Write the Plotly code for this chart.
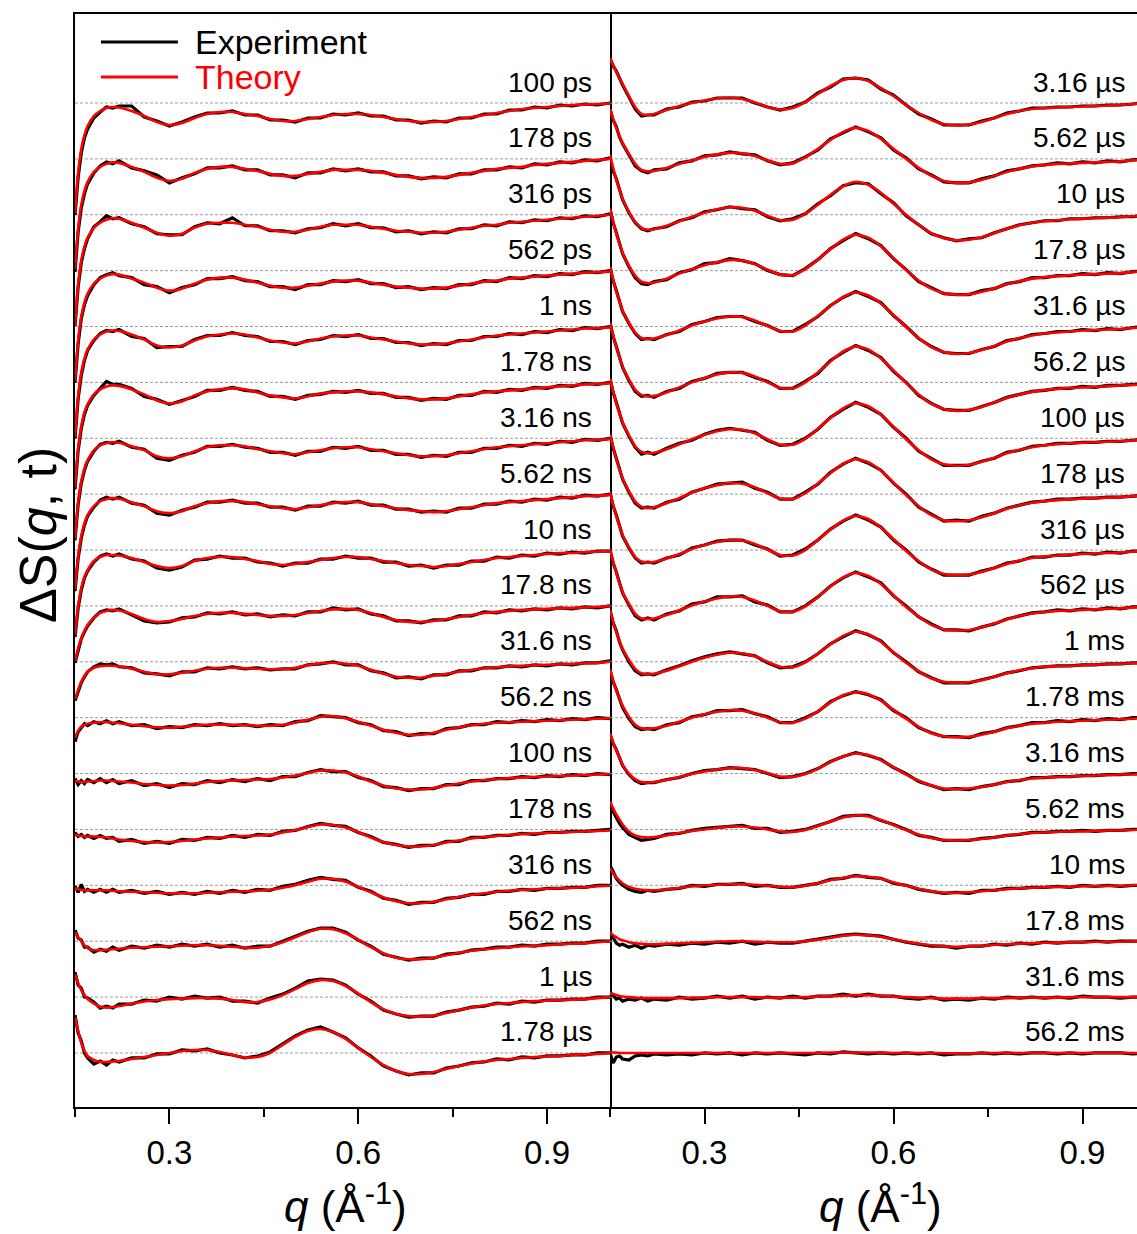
import plotly.graph_objects as go

# q grid (Å^-1) shared by all series
q = [0.15, 0.155, 0.16, 0.165, 0.17, 0.18, 0.19, 0.20, 0.21, 0.22,
     0.24, 0.26, 0.28, 0.30, 0.32, 0.34, 0.36, 0.38, 0.40, 0.42,
     0.44, 0.46, 0.48, 0.50, 0.52, 0.54, 0.56, 0.58, 0.60, 0.62,
     0.64, 0.66, 0.68, 0.70, 0.72, 0.74, 0.76, 0.78, 0.80, 0.82,
     0.84, 0.86, 0.88, 0.90, 0.92, 0.94, 0.96, 0.98, 1.00]

left_labels = ["100 ps", "178 ps", "316 ps", "562 ps", "1 ns", "1.78 ns", "3.16 ns",
               "5.62 ns", "10 ns", "17.8 ns", "31.6 ns", "56.2 ns", "100 ns", "178 ns",
               "316 ns", "562 ns", "1 µs", "1.78 µs"]
right_labels = ["3.16 µs", "5.62 µs", "10 µs", "17.8 µs", "31.6 µs", "56.2 µs", "100 µs",
                "178 µs", "316 µs", "562 µs", "1 ms", "1.78 ms", "3.16 ms", "5.62 ms",
                "10 ms", "17.8 ms", "31.6 ms", "56.2 ms"]

x_ticks = [0.3, 0.6, 0.9]
x_tick_text = ["0.3", "0.6", "0.9"]

# ---------------- LEFT PANEL: theory / experiment ----------------
th_100ps = [-110, -70, -46, -32, -23, -13, -8, -5, -4, -4.5,
            -8, -13, -19, -22, -20, -15, -11, -9, -9, -11,
            -13, -16, -18, -18, -16, -14, -12, -11, -11, -12,
            -14, -16, -18, -19, -19, -18, -16, -14, -12, -10,
            -8, -6, -5, -4, -3, -2, -1.5, -1, -0.5]
ex_100ps = [-112, -74, -50, -35, -26, -15, -9, -4, -5, -3,
            -3, -14, -18, -23, -19, -14, -10, -10, -8, -12,
            -12, -17, -17, -19, -15, -15, -11, -12, -10, -13,
            -13, -17, -17, -20, -18, -19, -15, -15, -11, -11,
            -7, -7, -4, -5, -2, -3, -1, -2, 0]
th_178ps = [-110, -70, -46, -32, -23, -13, -8, -5, -3.5, -4,
            -8, -13, -19, -22, -20, -14, -10, -8, -8, -10,
            -12, -15, -17, -17, -15, -13, -11, -11, -11, -12,
            -14, -16, -18, -19, -19, -18, -16, -14, -12, -10,
            -9, -8, -6, -5, -4, -3, -2, -1, 0]
ex_178ps = [-113, -73, -49, -35, -25, -14, -7, -3, -5, -2,
            -9, -12, -16, -24, -19, -15, -9, -9, -7, -11,
            -11, -16, -16, -19, -14, -14, -10, -12, -10, -13,
            -13, -17, -17, -20, -18, -19, -15, -15, -11, -11,
            -8, -9, -5, -6, -3, -4, -1, -2, 1]
th_316ps = [-110, -70, -46, -32, -23, -13, -8, -5, -3.5, -4,
            -8, -13, -18, -21, -19, -13, -9, -8, -8, -10,
            -12, -15, -17, -17, -15, -12, -10, -10, -10, -12,
            -14, -16, -17, -18, -18, -17, -15, -13, -11, -10,
            -8, -7, -6, -5, -4, -3, -2, -1, 0]
ex_316ps = [-111, -72, -48, -34, -24, -12, -7, -1, -4, -3,
            -9, -12, -19, -20, -20, -12, -8, -9, -3, -11,
            -11, -16, -16, -18, -14, -13, -9, -11, -9, -13,
            -13, -17, -16, -19, -17, -18, -14, -14, -10, -11,
            -7, -8, -5, -6, -3, -4, -1, -2, 1]
th_562ps = [-110, -70, -46, -32, -23, -13, -8, -5, -3.5, -4,
            -8, -12, -17, -20, -18, -13, -9, -7, -7, -9,
            -12, -15, -17, -17, -15, -13, -11, -10, -10, -12,
            -14, -16, -17, -18, -18, -17, -15, -13, -11, -10,
            -8, -7, -6, -5, -4, -3, -2, -1.5, -1]
ex_562ps = [-112, -73, -48, -34, -25, -14, -7, -4, -2, -5,
            -7, -14, -16, -22, -17, -14, -8, -8, -6, -10,
            -11, -16, -16, -19, -14, -14, -10, -11, -9, -13,
            -13, -17, -16, -19, -17, -18, -14, -14, -10, -11,
            -7, -8, -5, -6, -3, -4, -1, -2, 0]
th_1ns = [-110, -70, -46, -32, -23, -13, -8, -5, -4, -4.5,
          -8, -13, -19, -21, -19, -14, -10, -8, -7, -8,
          -11, -14, -16, -17, -15, -12, -10, -9, -9, -11,
          -13, -15, -17, -18, -18, -17, -15, -13, -11, -9,
          -8, -7, -6, -5, -4, -3, -2, -1.5, -1]
ex_1ns = [-112, -72, -49, -34, -24, -14, -7, -4, -5, -3,
          -10, -12, -21, -20, -20, -13, -9, -9, -6, -9,
          -10, -15, -15, -18, -14, -13, -9, -10, -8, -12,
          -12, -16, -16, -19, -17, -18, -14, -14, -10, -10,
          -7, -8, -5, -6, -3, -4, -1, -2, 0]
th_1p78ns = [-105, -66, -44, -30, -22, -12, -7, -4, -3, -3.5,
             -7, -12, -18, -21, -19, -13, -9, -7, -6, -7,
             -10, -13, -15, -16, -14, -11, -10, -9, -9, -10,
             -12, -14, -16, -17, -17, -16, -14, -12, -10, -9,
             -8, -7, -6, -5, -4, -3, -2, -1.5, -1]
ex_1p78ns = [-107, -68, -46, -32, -23, -13, -6, 1, -2, -2,
             -6, -14, -17, -22, -18, -14, -8, -8, -5, -8,
             -9, -14, -14, -17, -13, -12, -9, -10, -8, -11,
             -11, -15, -15, -18, -16, -17, -13, -13, -9, -10,
             -7, -8, -5, -6, -3, -4, -1, -2, 0]
th_3p16ns = [-100, -64, -43, -30, -22, -12, -7, -5, -4, -4.5,
             -8, -12, -18, -20, -18, -13, -9, -7, -7, -8,
             -11, -13, -15, -16, -14, -12, -10, -9, -9, -11,
             -13, -15, -17, -18, -18, -17, -15, -13, -11, -9,
             -8, -7, -6, -5, -4, -3, -2, -1.5, -1]
ex_3p16ns = [-102, -66, -45, -32, -23, -13, -6, -4, -5, -3,
             -9, -11, -20, -22, -17, -14, -8, -8, -6, -9,
             -10, -14, -14, -17, -13, -13, -9, -10, -8, -12,
             -12, -16, -16, -19, -17, -18, -14, -14, -10, -10,
             -7, -8, -5, -6, -3, -4, -1, -2, 0]
th_5p62ns = [-95, -62, -42, -29, -21, -12, -7, -5, -4, -4.5,
             -8, -12, -17, -19, -17, -12, -9, -7, -7, -8,
             -10, -12, -14, -15, -13, -11, -9, -8, -8, -10,
             -12, -14, -16, -17, -18, -17, -15, -13, -11, -9,
             -8, -7, -6, -5, -4, -3, -2, -1.5, -1]
ex_5p62ns = [-97, -64, -44, -31, -22, -13, -6, -3, -5, -3,
             -9, -11, -19, -21, -16, -13, -8, -8, -6, -9,
             -9, -13, -13, -16, -12, -12, -8, -9, -7, -11,
             -11, -15, -15, -18, -17, -18, -14, -14, -10, -10,
             -7, -8, -5, -6, -3, -4, -1, -2, 0]
th_10ns = [-85, -56, -38, -27, -20, -11, -7, -5, -5, -5.5,
           -8, -12, -16, -18, -16, -11, -8, -7, -7, -9,
           -11, -14, -15, -14, -12, -10, -8, -7, -7, -9,
           -11, -13, -15, -16, -17, -16, -14, -12, -10, -8,
           -7, -6, -5, -4, -3, -3, -2, -1.5, -1]
ex_10ns = [-87, -58, -40, -28, -21, -12, -6, -4, -6, -4,
           -9, -11, -18, -20, -17, -10, -9, -6, -8, -8,
           -12, -13, -16, -13, -13, -9, -9, -6, -8, -8,
           -12, -12, -16, -15, -18, -15, -15, -11, -11, -7,
           -8, -5, -6, -3, -4, -2, -3, -1, -1]
th_17p8ns = [-55, -42, -32, -25, -19, -12, -7, -5, -4, -4.5,
             -8, -13, -16, -15, -13, -10, -8, -7, -7, -8,
             -9, -10, -10, -9, -7, -5, -3.5, -3, -4, -7,
             -11, -14, -16, -16, -15, -13, -11, -9, -7, -6,
             -5, -4, -3.5, -3, -2.5, -2, -1.5, -1, 0]
ex_17p8ns = [-57, -44, -33, -26, -20, -12, -6, -4, -5, -3,
             -9, -15, -17, -16, -12, -11, -7, -8, -6, -9,
             -8, -11, -9, -10, -6, -6, -2, -4, -3, -8,
             -10, -15, -15, -17, -14, -14, -10, -10, -6, -7,
             -4, -5, -3, -4, -2, -3, -1, -2, 0]
th_31p6ns = [-37, -28, -20, -14, -10, -6, -4.5, -4, -4, -4.5,
             -7, -10, -12.5, -12.5, -11, -9, -7, -6, -6, -6.5,
             -7, -7.5, -7.5, -6, -3.5, -1.5, -1, -2, -4, -8,
             -12, -15, -16, -16, -14, -12, -10, -8, -6.5, -5.5,
             -4.5, -4, -3.5, -3, -2.5, -2, -1.5, -1, 0]
ex_31p6ns = [-39, -29, -21, -15, -10, -5, -2, -3, -2, -5,
             -6, -11, -12, -14, -10, -10, -6, -7, -5, -7,
             -6, -8, -7, -7, -3, -2, 0, -3, -3, -9,
             -11, -16, -15, -17, -13, -13, -9, -9, -6, -6,
             -4, -5, -3, -4, -2, -3, -1, -1, 1]
th_56p2ns = [-20, -13, -9, -7, -6, -5, -4.5, -4.5, -5, -5.5,
             -7, -8.5, -9.5, -10, -9, -8, -7, -7, -7, -7.5,
             -8, -8, -7, -5, -2, 1, 1.5, -0.5, -4, -8,
             -12, -15, -17, -17, -15, -12, -9.5, -7.5, -6, -5,
             -4.5, -4, -3.5, -3, -2.5, -2, -1.5, -1, -0.5]
ex_56p2ns = [-24, -14, -10, -6, -8, -4, -6, -3, -6, -4,
             -8, -7, -11, -9, -10, -7, -8, -6, -8, -7,
             -9, -7, -8, -4, -3, 2, 1, 0, -5, -7,
             -13, -14, -18, -16, -16, -11, -10, -7, -7, -4,
             -5, -3, -4, -2, -3, -1, -2, 0, -1]
th_100ns = [-7, -8, -8.5, -8.5, -8, -7.5, -7, -7, -7.5, -8,
            -9, -10.5, -11.5, -12, -11.5, -10, -8.5, -7.5, -7, -6.5,
            -6, -5.5, -4, -2, 0.5, 3, 3, 1, -3, -8,
            -12, -15, -16, -16, -14.5, -12, -10, -8, -6.5, -5.5,
            -4.5, -4, -3.5, -3, -2.5, -2, -1.5, -1, -0.5]
ex_100ns = [-5, -11, -7, -10, -6, -9, -5, -9, -6, -10,
            -7, -12, -10, -14, -10, -11, -7, -9, -6, -8,
            -5, -7, -3, -3, 1, 4, 2, 2, -4, -7,
            -13, -14, -17, -15, -15, -11, -11, -7, -7, -5,
            -5, -3, -4, -2, -3, -1, -2, 0, -1]
th_178ns = [-5, -6, -6.5, -7, -7, -7, -7.5, -8, -9, -10,
            -11.5, -12.5, -13, -12.5, -11.5, -10, -9, -8, -7, -6.5,
            -6, -5, -3, -0.5, 2.5, 5, 4.5, 2, -2.5, -8,
            -12.5, -15.5, -17, -17, -15.5, -13, -11, -9, -7.5, -6.5,
            -5.5, -4.5, -4, -3.5, -3, -2.5, -2, -1.5, -1]
ex_178ns = [-3, -7, -5, -8, -6, -9, -6, -9, -8, -12,
            -10, -14, -12, -14, -10, -11, -8, -9, -6, -8,
            -5, -6, -2, -1, 3, 6, 4, 3, -3, -7,
            -13, -15, -18, -16, -16, -12, -12, -8, -8, -6,
            -6, -4, -5, -3, -3, -2, -2, -1, 0]
th_316ns = [-3, -4, -4.5, -5, -5, -5, -5, -5, -5.5, -6,
            -6.5, -7, -7.5, -8, -8, -8, -7.5, -7, -6.5, -6,
            -5.5, -4.5, -2.5, 0, 3.5, 6.5, 6.5, 3.5, -1.5, -7,
            -12, -16, -18, -18, -16.5, -14, -11.5, -9.5, -8, -6.5,
            -5.5, -4.5, -4, -3.5, -3, -2.5, -2, -1, -0.5]
ex_316ns = [-1, -7, 1, -6, -4, -7, -4, -7, -4, -7,
            -5, -8, -6, -9, -7, -9, -6, -8, -5, -7,
            -4, -5, -1, 1, 5, 8, 6, 5, -2, -6,
            -13, -15, -19, -17, -17, -13, -12, -9, -9, -6,
            -6, -4, -5, -3, -3, -2, -2, 0, 0]
th_562ns = [9, 4, 0, -4, -7, -9, -9, -8.5, -8, -7.5,
            -6.5, -6, -5.5, -5, -4.5, -4, -4, -4.5, -5.5, -6.5,
            -6.5, -4.5, -1, 4, 9, 12.5, 12, 8, 1.5, -6,
            -12, -16.5, -18, -18, -16.5, -14, -11.5, -9.5, -8, -7,
            -6, -5, -4.5, -4, -3, -2.5, -2, -1, 0]
ex_562ns = [11, 3, 1, -6, -6, -11, -8, -10, -6, -9,
            -5, -7, -4, -6, -3, -5, -3, -6, -4, -7,
            -5, -5, 0, 5, 10, 13, 13, 9, 1, -5,
            -13, -16, -19, -17, -17, -13, -12, -9, -8, -6,
            -6, -4, -5, -3, -3, -2, -2, 0, 0]
th_1us = [23, 14, 7, 2, -2, -6.5, -9.5, -10.5, -10, -9,
          -6.5, -4.5, -3, -2, -1.5, -1, -1, -1.5, -3, -5,
          -5, -2.5, 2, 8, 14, 17, 16, 11, 3.5, -5,
          -12, -17, -19, -19.5, -18.5, -16, -13, -10.5, -8.5, -7,
          -6, -5, -4, -3.5, -3, -2.5, -2, -1, 0]
ex_1us = [25, 12, 9, 0, -1, -5, -11, -9, -11, -7,
          -7, -3, -4, 0, -2, 1, -1, 0, -4, -4,
          -6, -1, 3, 9, 16, 18, 17, 12, 3, -4,
          -13, -17, -20, -19, -19, -15, -13, -10, -9, -6,
          -7, -4, -5, -3, -3, -2, -2, 0, 0]
th_1p78us = [36, 22, 10, 2, -3, -7, -9, -9, -8.5, -8,
             -6, -4, -2, 0, 2, 3, 3, 1, -2, -4.5,
             -4, 0, 8, 16, 22, 24, 21, 14, 5, -4,
             -12, -18, -21, -21, -19, -16, -13, -10.5, -8.5, -7,
             -6, -5, -4, -3.5, -3, -2, -1.5, -1, 0]
ex_1p78us = [38, 20, 12, 0, -5, -11, -8, -12, -7, -9,
             -5, -5, -1, -1, 3, 2, 4, 0, -2, -5,
             -3, 1, 9, 17, 23, 26, 21, 15, 5, -3,
             -13, -18, -22, -20, -20, -15, -13, -10, -9, -6,
             -7, -4, -5, -3, -3, -2, -2, 0, 0]

# ---------------- RIGHT PANEL: theory / experiment ----------------
th_3p16us = [45, 38, 31, 25, 19, 7, -4, -11, -12, -11,
             -7, -3, 0, 2.5, 4.5, 5.5, 4, 0.5, -4, -6.5,
             -5, 1, 9, 17, 23, 25, 22, 15, 7, -2,
             -10, -17, -21, -22.5, -21.5, -19, -15, -11, -8, -6,
             -5, -4.5, -4, -3.5, -3, -2.5, -2, -1, 0]
ex_3p16us = [45, 37, 32, 24, 18, 6, -6, -13, -12, -12,
             -6, -4, 1, 2, 5, 5, 5, 0, -4, -7,
             -4, 1, 10, 16, 24, 25, 23, 14, 8, -2,
             -11, -16, -22, -22, -22, -18, -15, -10, -8, -5,
             -5, -4, -4, -3, -3, -2, -2, -1, 1]
th_5p62us = [50, 40, 31, 23, 16, 5, -5, -11, -12.5, -12,
             -9, -5, -1.5, 2, 4.5, 6, 5.5, 3, -1.5, -5,
             -4.5, 1.5, 10, 19, 27, 31, 28, 20, 10, 0,
             -9, -17, -22, -24, -23.5, -21, -17, -13, -10, -7.5,
             -6, -5, -4.5, -4, -3.5, -3, -2.5, -1.5, -0.5]
ex_5p62us = [50, 39, 32, 22, 15, 4, -7, -12, -14, -11,
             -10, -4, -2, 3, 4, 7, 5, 4, -2, -6,
             -4, 2, 9, 20, 26, 32, 27, 21, 9, 1,
             -10, -16, -23, -24, -24, -20, -17, -12, -10, -7,
             -6, -4, -5, -3, -4, -2, -3, -1, 0]
th_10us = [60, 47, 35, 25, 16, 3, -7, -13, -15, -14.5,
           -11, -6.5, -2, 2, 5.5, 7.5, 7, 4, -1, -5.5,
           -5, 1, 10, 20, 28.5, 33, 30, 22, 11, 0,
           -10, -18.5, -23.5, -25.5, -25, -22.5, -18.5, -14, -10.5, -8,
           -6.5, -5.5, -4.5, -4, -3.5, -3, -2.5, -1.5, -0.5]
ex_10us = [55, 44, 36, 24, 15, 2, -8, -14, -16, -14,
           -12, -6, -3, 3, 5, 8, 6, 5, -2, -6,
           -4, 1, 11, 19, 29, 32, 31, 21, 12, -1,
           -10, -19, -23, -26, -24, -23, -18, -14, -10, -8,
           -6, -6, -4, -4, -3, -3, -2, -2, 0]
th_17p8us = [62, 49, 37, 27, 18, 5, -5, -11, -12.5, -12,
             -8, -3, 1.5, 5.5, 8.5, 10.5, 10, 6.5, 1, -4,
             -4.5, 1.5, 11, 21.5, 31, 36, 33, 24.5, 12.5, 0.5,
             -10, -18, -22.5, -24, -23.5, -21, -17.5, -13.5, -10.5, -8,
             -6.5, -5.5, -4.5, -4, -3.5, -3, -2.5, -1.5, -0.5]
ex_17p8us = [62, 48, 38, 26, 17, 4, -7, -13, -14, -11,
             -9, -2, 1, 7, 8, 12, 10, 7, 0, -4,
             -5, 2, 11, 22, 30, 37, 32, 25, 12, 1,
             -11, -17, -23, -24, -24, -20, -18, -13, -11, -7,
             -7, -5, -5, -3, -4, -2, -3, -1, 0]
th_31p6us = [60, 47, 35, 25, 16, 4, -6, -11.5, -12.5, -12,
             -8.5, -4, 1, 5, 8, 10, 9.5, 6, 0.5, -4.5,
             -5, 1, 10.5, 20.5, 29.5, 34, 31, 23, 11.5, -0.5,
             -11.5, -20.5, -25.5, -27.5, -26.5, -23.5, -19.5, -15, -11.5, -9,
             -7, -6, -5, -4, -3.5, -3, -2.5, -1.5, -0.5]
ex_31p6us = [60, 46, 36, 24, 15, 3, -7, -13, -12, -13,
             -8, -5, 2, 5, 9, 10, 10, 5, 1, -5,
             -5, 2, 10, 21, 29, 35, 30, 24, 11, 0,
             -12, -20, -26, -27, -27, -23, -20, -14, -12, -8,
             -7, -5, -5, -3, -4, -2, -3, -1, 0]
th_56p2us = [60, 47, 35, 25, 16, 3, -7.5, -12.5, -14, -13.5,
             -10, -5, 0, 4.5, 8, 10, 9.5, 6, 0, -5.5,
             -6, 0, 10, 21, 31, 36, 33, 24, 12, -0.5,
             -12, -21.5, -26.5, -28.5, -27.5, -24.5, -20, -15.5, -12, -9.5,
             -7.5, -6.5, -5.5, -5, -4.5, -4, -3, -2.5, -2]
ex_56p2us = [60, 46, 36, 24, 15, 2, -9, -14, -13, -15,
             -9, -6, 1, 4, 9, 10, 10, 5, 1, -6,
             -6, 1, 9, 22, 30, 37, 32, 25, 11, 0,
             -13, -21, -27, -28, -28, -24, -20, -15, -12, -9,
             -8, -6, -6, -4, -5, -3, -3, -2, -2]
th_100us = [60, 47, 35, 25, 16, 3, -8, -13.5, -15, -14.5,
            -11, -6, -1, 3.5, 7, 9, 8.5, 5, -1, -6.5,
            -6.5, -0.5, 9.5, 20.5, 30, 35, 32, 23.5, 11.5, -1,
            -12, -21, -26, -27.5, -26.5, -23.5, -19.5, -15, -11.5, -9,
            -7, -6, -5, -4.5, -4, -3.5, -3, -2, -1.5]
ex_100us = [60, 46, 36, 24, 15, 2, -9, -16, -14, -16,
            -10, -5, -2, 4, 8, 10, 8, 6, -2, -7,
            -6, 0, 9, 21, 29, 36, 31, 24, 11, 0,
            -13, -20, -27, -27, -27, -23, -20, -14, -12, -8,
            -7, -5, -5, -4, -4, -3, -3, -2, -1]
th_178us = [60, 47, 35, 25, 16, 3, -7.5, -12.5, -14, -13,
            -9, -4, 1.5, 6, 9, 11, 10.5, 7, 1, -4.5,
            -5, 1, 10.5, 21, 30.5, 35, 32, 23.5, 11.5, -1,
            -12, -21, -26, -27, -26, -23, -19, -14.5, -11, -8.5,
            -7, -6, -5, -4.5, -4, -3.5, -3, -2, -1.5]
ex_178us = [60, 46, 36, 24, 15, 2, -9, -14, -13, -14,
            -8, -5, 2, 6, 10, 11, 12, 6, 2, -5,
            -5, 2, 10, 22, 30, 36, 31, 24, 11, 0,
            -13, -20, -27, -26, -27, -22, -19, -14, -11, -8,
            -7, -5, -5, -4, -4, -3, -3, -2, -1]
th_316us = [58, 45, 34, 24, 15, 3, -7, -11.5, -12.5, -12,
            -8.5, -4, 1, 5, 8, 10, 9.5, 6, 0.5, -5,
            -5.5, 0, 10, 20.5, 29.5, 34, 31, 22.5, 11, -1,
            -11, -19.5, -24, -25, -24.5, -22, -18, -14, -10.5, -8,
            -6.5, -5.5, -4.5, -4, -3.5, -3, -2.5, -1.5, -1]
ex_316us = [58, 44, 35, 23, 14, 2, -8, -13, -12, -13,
            -8, -5, 2, 5, 9, 10, 10, 5, 1, -6,
            -5, 1, 10, 21, 29, 35, 30, 23, 10, 0,
            -12, -19, -25, -25, -25, -21, -18, -13, -11, -7,
            -7, -5, -5, -3, -4, -2, -3, -1, -1]
th_562us = [56, 44, 33, 23, 14, 2, -8, -12.5, -13, -12.5,
            -9, -4.5, 0.5, 4.5, 7.5, 9.5, 9, 5.5, 0, -5.5,
            -6, -0.5, 9, 19.5, 28.5, 33, 30, 22, 10.5, -1,
            -10.5, -19, -23.5, -24.5, -24, -21.5, -17.5, -13.5, -10, -7.5,
            -6, -5, -4.5, -4, -3.5, -3, -2.5, -1.5, -1]
ex_562us = [56, 43, 34, 22, 13, 1, -10, -14, -12, -14,
            -8, -5, 2, 4, 9, 9, 10, 4, 1, -6,
            -6, 0, 9, 20, 28, 34, 29, 23, 10, 0,
            -11, -18, -24, -24, -25, -21, -18, -13, -10, -7,
            -6, -4, -5, -3, -4, -2, -3, -1, -1]
th_1ms = [52, 40, 30, 21, 13, 2, -7, -11.5, -12.5, -12,
          -9, -4.5, 0, 4, 7, 9, 8.5, 5.5, 0, -5,
          -5.5, -0.5, 8, 17.5, 26, 30, 27.5, 20, 9.5, -1,
          -9.5, -16.5, -20, -21, -20.5, -18.5, -15, -11.5, -8.5, -6.5,
          -5, -4.5, -4, -3.5, -3, -2.5, -2, -1.5, -1]
ex_1ms = [52, 39, 31, 20, 12, 0, -9, -13, -12, -13,
          -8, -4, 1, 5, 8, 10, 8, 6, -1, -6,
          -5, 0, 8, 18, 25, 31, 27, 21, 9, 0,
          -10, -16, -21, -21, -21, -18, -15, -11, -9, -6,
          -5, -4, -4, -3, -3, -2, -2, -1, -1]
th_1p78ms = [48, 37, 27, 19, 12, 1, -7, -10.5, -11, -10.5,
             -8, -4, 0, 3.5, 6, 7.5, 7, 4.5, 0, -4.5,
             -5, -1, 6.5, 15, 22.5, 25.5, 23.5, 17, 8, -1,
             -9, -15.5, -18.5, -19.5, -19, -17, -14, -10.5, -8, -6,
             -5, -4, -3.5, -3, -2.5, -2, -1.5, -1, -0.5]
ex_1p78ms = [48, 36, 28, 18, 10, -1, -9, -12, -11, -12,
             -7, -5, 1, 3, 7, 7, 8, 4, 1, -5,
             -5, 0, 6, 16, 22, 26, 23, 18, 7, 0,
             -10, -15, -19, -19, -20, -16, -14, -10, -8, -5,
             -5, -3, -4, -2, -3, -1, -2, 0, 0]
th_3p16ms = [40, 31, 23, 16, 9, 0, -5.5, -8.5, -9, -8.5,
             -6.5, -3.5, -0.5, 2, 4, 5.5, 5.5, 3.5, 0.5, -3,
             -3.5, -0.5, 5, 11.5, 17, 20, 18.5, 13.5, 6.5, -1,
             -7, -12, -15, -15.5, -15, -13.5, -11, -8.5, -6.5, -5,
             -4, -3.5, -3, -2.5, -2, -1.5, -1, -1, -0.5]
ex_3p16ms = [40, 30, 24, 15, 8, -1, -7, -10, -9, -9,
             -6, -4, 0, 3, 4, 6, 5, 4, 0, -4,
             -3, 0, 5, 12, 17, 21, 18, 14, 6, 0,
             -8, -12, -16, -15, -16, -13, -11, -8, -7, -4,
             -4, -3, -3, -2, -2, -1, -1, 0, 0]
th_5p62ms = [28, 21, 15, 10, 5, -2, -6, -7.5, -8, -7.5,
             -6, -3.5, -1.5, 0, 1.5, 3, 3, 2, 0, -2,
             -2.5, -0.5, 3.5, 8, 12, 14, 13, 9.5, 4.5, -0.5,
             -5, -8.5, -10.5, -11, -10.5, -9.5, -8, -6, -4.5, -3.5,
             -3, -2.5, -2, -2, -1.5, -1, -1, -0.5, 0]
ex_5p62ms = [28, 18, 12, 6, 2, -5, -8, -11, -10, -9,
             -5, -4, -1, 1, 2, 3, 4, 1, 1, -3,
             -2, 0, 4, 8, 13, 14, 14, 9, 5, 0,
             -6, -8, -11, -11, -11, -9, -8, -6, -5, -3,
             -3, -2, -2, -1, -2, -1, -1, 0, 0]
th_10ms = [17, 12, 8, 5, 2, -1.5, -3.5, -4.5, -5, -5,
           -4, -2.5, -1, 0, 0.5, 1, 1, 0.5, -0.5, -1.5,
           -2, -0.5, 2, 5, 7.5, 9, 8.5, 6.5, 3, -0.5,
           -3.5, -6, -7.5, -7.5, -7, -6, -5, -4, -3, -2.5,
           -2, -1.5, -1.5, -1, -1, -0.5, -0.5, 0, 0]
ex_10ms = [20, 13, 7, 3, 0, -4, -6, -7, -5, -6,
           -4, -3, 0, -1, 1, 1, 2, -1, 0, -2,
           -2, 0, 2, 6, 7, 10, 8, 7, 2, 0,
           -4, -6, -8, -7, -8, -5, -5, -3, -3, -2,
           -2, -1, -2, 0, -1, 0, -1, 0, 0]
th_17p8ms = [9, 6, 4, 2, 1, -1, -2, -2.5, -3, -3,
             -2.5, -2, -1.5, -1, -0.5, 0, 0, -0.5, -1, -1,
             -1, 0, 1.5, 3.5, 5.5, 6.5, 6, 4.5, 2, -0.5,
             -2.5, -4, -5, -5.5, -5, -4.5, -3.5, -3, -2.5, -2,
             -1.5, -1.5, -1, -1, -0.5, -0.5, -0.5, 0, 0]
ex_17p8ms = [9, 3, -2, -4, -3, -6, -4, -7, -4, -5,
             -3, -4, -2, -3, -1, -2, 0, -3, -1, -2,
             -2, 0, 2, 4, 6, 7, 6, 5, 2, -1,
             -3, -5, -5, -7, -5, -5, -3, -4, -2, -3,
             -1, -2, -1, -1, 0, -1, 0, 0, 0]
th_31p6ms = [4, 3, 2, 1, 0.5, 0, -0.5, -1, -1, -1,
             -1, -1, -0.5, -0.5, 0, 0, 0, 0, -0.5, -0.5,
             -0.5, 0, 0.5, 1, 1.5, 2, 2, 1.5, 0.5, 0,
             -0.5, -1, -1.5, -1.5, -1.5, -1, -1, -1, -0.5, -0.5,
             -0.5, -0.5, 0, 0, 0, 0, 0, 0, 0]
ex_31p6ms = [5, 1, -2, -1, -4, -2, -3, -1, -4, -2,
             -3, 0, -2, -1, 1, -1, 1, -2, 0, -1,
             1, -1, 1, 1, 3, 1, 3, 1, 1, -1,
             -2, 0, -3, -2, -3, -1, -2, 0, -1, 0,
             -1, 0, -1, 1, 0, 0, -1, 0, 0]
th_56p2ms = [1, 0.5, 0.3, 0, 0, 0, 0, 0, 0, 0,
             0, 0, 0, 0, 0, 0, 0, 0, 0, 0,
             0, 0, 0, 0.3, 0.5, 0.5, 0.5, 0.3, 0, 0,
             0, 0, -0.3, -0.5, -0.5, -0.3, 0, 0, 0, 0,
             0, 0, 0, 0, 0, 0, 0, 0, 0]
ex_56p2ms = [0, -10, -4, -3, -6, -7, -3, -2, -3, -1,
             -2, -1, -2, 0, -1, 0, -2, 0, -1, 0,
             -1, -2, 0, -1, 1, 0, -1, 0, -1, 0,
             -1, 0, -2, -1, -1, 0, -1, 0, -1, 0,
             0, -1, 0, -1, 0, 0, 0, -1, 0]

left_theory = [th_100ps, th_178ps, th_316ps, th_562ps, th_1ns, th_1p78ns, th_3p16ns,
               th_5p62ns, th_10ns, th_17p8ns, th_31p6ns, th_56p2ns, th_100ns, th_178ns,
               th_316ns, th_562ns, th_1us, th_1p78us]
left_exp = [ex_100ps, ex_178ps, ex_316ps, ex_562ps, ex_1ns, ex_1p78ns, ex_3p16ns,
            ex_5p62ns, ex_10ns, ex_17p8ns, ex_31p6ns, ex_56p2ns, ex_100ns, ex_178ns,
            ex_316ns, ex_562ns, ex_1us, ex_1p78us]
right_theory = [th_3p16us, th_5p62us, th_10us, th_17p8us, th_31p6us, th_56p2us, th_100us,
                th_178us, th_316us, th_562us, th_1ms, th_1p78ms, th_3p16ms, th_5p62ms,
                th_10ms, th_17p8ms, th_31p6ms, th_56p2ms]
right_exp = [ex_3p16us, ex_5p62us, ex_10us, ex_17p8us, ex_31p6us, ex_56p2us, ex_100us,
             ex_178us, ex_316us, ex_562us, ex_1ms, ex_1p78ms, ex_3p16ms, ex_5p62ms,
             ex_10ms, ex_17p8ms, ex_31p6ms, ex_56p2ms]

for grp in (left_theory, left_exp, right_theory, right_exp):
    for i, s in enumerate(grp):
        assert len(s) == len(q), (i, len(s))

# ---------------- layout constants ----------------
W, H = 1137, 1234
ML, MT, MB = 75, 14, 127
SPACING = 55.88          # vertical offset between stacked curves
Y_TOP, Y_BOT = 89, -1004  # y range (offset units)
XL_RANGE = [0.15, 1.0]
XR_RANGE = [0.15, 0.9865]
SPLIT = (610 - ML) / (W - ML)
FONT = "Liberation Sans, Arial, sans-serif"
BLACK, RED = "#000000", "#ff0000"

fig = go.Figure()
shapes, annotations = [], []


def add_panel(theory, exp, labels, xa, ya, label_x):
    for k, (th, ex, lab) in enumerate(zip(theory, exp, labels)):
        base = -k * SPACING
        shapes.append(dict(type="line", xref=xa, yref=ya,
                           x0=0.15, x1=1.0, y0=base, y1=base, layer="below",
                           line=dict(color="#9a9a9a", width=1, dash="3px,2px")))
        fig.add_trace(go.Scatter(x=q, y=[base + v for v in ex], mode="lines",
                                 line=dict(color=BLACK, width=3.2),
                                 xaxis=xa, yaxis=ya, showlegend=False, hoverinfo="skip"))
        fig.add_trace(go.Scatter(x=q, y=[base + v for v in th], mode="lines",
                                 line=dict(color=RED, width=2.6, shape="spline", smoothing=0.6),
                                 xaxis=xa, yaxis=ya, showlegend=False, hoverinfo="skip"))
        annotations.append(dict(text=lab, xref=xa, yref=ya,
                                x=label_x, y=base + 21, xanchor="right", yanchor="middle",
                                showarrow=False, font=dict(family=FONT, size=28, color=BLACK)))


add_panel(left_theory, left_exp, left_labels, "x", "y", 0.975)
add_panel(right_theory, right_exp, right_labels, "x2", "y2", 0.9706)

# legend (manual)
leg_x0, leg_x1, leg_tx = 0.15 + (101 - ML) / 630, 0.15 + (178 - ML) / 630, 0.15 + (193 - ML) / 630
for yy, col, txt in [(61, BLACK, "Experiment"), (26, RED, "Theory")]:
    shapes.append(dict(type="line", xref="x", yref="y", x0=leg_x0, x1=leg_x1, y0=yy, y1=yy,
                       line=dict(color=col, width=3)))
    annotations.append(dict(text=txt, xref="x", yref="y", x=leg_tx, y=yy, xanchor="left",
                            yanchor="middle", showarrow=False,
                            font=dict(family=FONT, size=34, color=col)))


def px_to_paper_x(px):
    return (px - ML) / (W - ML)


def px_to_paper_y(py):
    return (H - MB - py) / (H - MB - MT)


for cx in (345, 880):
    annotations.append(dict(text="<i>q</i> (Å<sup>-1</sup>)", xref="paper", yref="paper",
                            x=px_to_paper_x(cx), y=px_to_paper_y(1203), xanchor="center",
                            yanchor="middle", showarrow=False,
                            font=dict(family=FONT, size=44, color=BLACK)))
annotations.append(dict(text="ΔS(<i>q</i>, t)", xref="paper", yref="paper",
                        x=px_to_paper_x(38), y=px_to_paper_y(535), xanchor="center",
                        yanchor="middle", textangle=-90, showarrow=False,
                        font=dict(family=FONT, size=52, color=BLACK)))

xcommon = dict(showline=True, linecolor=BLACK, linewidth=2, mirror=True, showgrid=False,
               zeroline=False, ticks="outside", ticklen=15, tickwidth=2, tickcolor=BLACK,
               tickvals=x_ticks, ticktext=x_tick_text,
               tickfont=dict(family=FONT, size=33, color=BLACK),
               minor=dict(tickvals=[0.15, 0.45, 0.75], ticks="outside", ticklen=8,
                          tickwidth=2, tickcolor=BLACK))
fig.update_layout(
    width=W, height=H, margin=dict(l=ML, r=0, t=MT, b=MB),
    paper_bgcolor="white", plot_bgcolor="white", showlegend=False,
    xaxis=dict(domain=[0, SPLIT], range=XL_RANGE, anchor="y", **xcommon),
    xaxis2=dict(domain=[SPLIT, 1], range=XR_RANGE, anchor="y2", **xcommon),
    yaxis=dict(domain=[0, 1], range=[Y_BOT, Y_TOP], anchor="x", showline=True,
               linecolor=BLACK, linewidth=2, mirror=True, showticklabels=False,
               ticks="", showgrid=False, zeroline=False),
    yaxis2=dict(domain=[0, 1], range=[Y_BOT, Y_TOP], anchor="x2", showline=False,
                showticklabels=False, ticks="", showgrid=False, zeroline=False),
    shapes=shapes, annotations=annotations,
)

fig.write_html("out.html", config={"displayModeBar": False},
               post_script="document.body.style.margin='0px';document.body.style.padding='0px';")
